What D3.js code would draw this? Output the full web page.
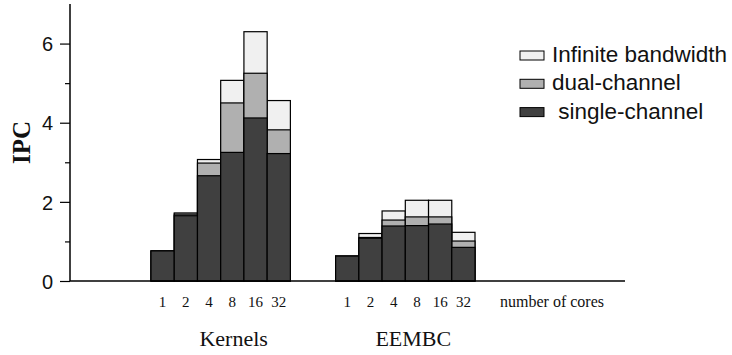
<!DOCTYPE html>
<html>
<head>
<meta charset="utf-8">
<script src="https://cdn.jsdelivr.net/npm/d3@7"></script>
<style>
  body { margin: 0; background: #fff; }
  svg { display: block; }
</style>
</head>
<body>
<div class="chart"></div>
<script>
const groups = ["Kernels", "EEMBC"]
const cores = ["1", "2", "4", "8", "16", "32"]
const yTicks = [0, 2, 4, 6]

// IPC per configuration (each value is the full bar height)
const single = {
    Kernels: [0.76, 1.65, 2.66, 3.25, 4.12, 3.22],
    EEMBC:   [0.63, 1.08, 1.39, 1.40, 1.44, 0.85]
}
const dual = {
    Kernels: [0.76, 1.69, 2.98, 4.50, 5.25, 3.82],
    EEMBC:   [0.63, 1.10, 1.54, 1.62, 1.62, 1.01]
}
const infinite = {
    Kernels: [0.76, 1.72, 3.07, 5.07, 6.30, 4.56],
    EEMBC:   [0.63, 1.20, 1.77, 2.04, 2.04, 1.23]
}

const seriesNames = ["Infinite bandwidth", "dual-channel", " single-channel"]
const seriesData = [infinite, dual, single]
const seriesColors = ["#f0f0f0", "#b0b0b0", "#404040"]

const W = 732, H = 355
const margin = {top: 4, right: 107, bottom: 74, left: 70}
const width = W - margin.left - margin.right
const height = H - margin.top - margin.bottom

const svg = d3.select(".chart").append("svg")
    .attr("width", W)
    .attr("height", H)
const g = svg.append("g")
    .attr("transform", `translate(${margin.left},${margin.top})`)

const yScale = d3.scaleLinear().domain([0, 7]).range([height, 0])

const groupScale = d3.scaleBand()
    .domain(groups)
    .range([81, 405])
    .paddingInner(0.245)
    .paddingOuter(0)

const coreScale = d3.scaleBand()
    .domain(cores)
    .range([0, groupScale.bandwidth()])

// bars, tallest series first so the shorter ones sit on top
seriesData.forEach((s, si) => {
    const rows = []
    groups.forEach(gr => cores.forEach((c, i) => rows.push({group: gr, core: c, v: s[gr][i]})))
    g.append("g").selectAll("rect")
        .data(rows)
        .enter()
        .append("rect")
            .attr("x", d => groupScale(d.group) + coreScale(d.core))
            .attr("width", coreScale.bandwidth())
            .attr("y", d => yScale(d.v))
            .attr("height", d => yScale(0) - yScale(d.v))
            .attr("fill", seriesColors[si])
            .attr("stroke", "#000")
            .attr("stroke-width", 1.2)
})

// y axis
const yAxis = d3.axisLeft(yScale)
    .tickValues(yTicks)
    .tickSize(10)
    .tickFormat(d3.format("d"))
const ya = g.append("g").call(yAxis)
ya.select(".domain").attr("d", `M0,${height}V0`).attr("stroke-width", 1.5)
ya.selectAll(".tick line").attr("stroke-width", 1.2)
ya.selectAll(".tick text")
    .attr("x", -17)
    .attr("dy", "0.36em")
    .style("font-family", "'Liberation Sans', Arial, sans-serif")
    .style("font-size", "20px")
    .attr("fill", "#111")

const minor = d3.axisLeft(yScale)
    .tickValues([1, 3, 5])
    .tickSize(5)
    .tickFormat("")
const ym = g.append("g").call(minor)
ym.select(".domain").remove()
ym.selectAll(".tick line").attr("stroke-width", 1.2)

// x axis line
g.append("line")
    .attr("x1", 0).attr("x2", width)
    .attr("y1", yScale(0)).attr("y2", yScale(0))
    .attr("stroke", "#000")
    .attr("stroke-width", 1.5)

// core labels
groups.forEach(gr => {
    g.append("g").selectAll("text")
        .data(cores)
        .enter()
        .append("text")
            .attr("x", d => groupScale(gr) + coreScale(d) + coreScale.bandwidth() / 2)
            .attr("y", yScale(0) + 26)
            .attr("text-anchor", "middle")
            .style("font-family", "'Liberation Serif', 'Times New Roman', serif")
            .style("font-size", "15px")
            .attr("fill", "#111")
            .text(d => d)
})

g.append("text")
    .attr("x", 430)
    .attr("y", yScale(0) + 26)
    .style("font-family", "'Liberation Serif', 'Times New Roman', serif")
    .style("font-size", "16px")
    .attr("fill", "#111")
    .text("number of cores")

// group labels (slightly right of the bar group centre, as in the original)
const labelNudge = [13, 8]
g.selectAll(".glabel")
    .data(groups)
    .enter()
    .append("text")
        .attr("class", "glabel")
        .attr("x", (d, i) => groupScale(d) + groupScale.bandwidth() / 2 + labelNudge[i])
        .attr("y", yScale(0) + 65)
        .attr("text-anchor", "middle")
        .style("font-family", "'Liberation Serif', 'Times New Roman', serif")
        .style("font-size", "22px")
        .attr("fill", "#111")
        .text(d => d)

// y label
svg.append("text")
    .attr("transform", `translate(30,${margin.top + yScale(3.5)}) rotate(-90)`)
    .attr("text-anchor", "middle")
    .style("font-family", "'Liberation Serif', 'Times New Roman', serif")
    .style("font-weight", "bold")
    .style("font-size", "25px")
    .attr("fill", "#111")
    .text("IPC")

// legend
const legend = svg.append("g")
    .attr("transform", "translate(520,51)")
legend.selectAll("rect")
    .data(seriesNames)
    .enter()
    .append("rect")
        .attr("x", 0)
        .attr("y", (_, i) => i * 28.3)
        .attr("width", 24)
        .attr("height", 9)
        .attr("fill", (_, i) => seriesColors[i])
        .attr("stroke", "#000")
        .attr("stroke-width", 1)
legend.selectAll("text")
    .data(seriesNames)
    .enter()
    .append("text")
        .attr("x", 32)
        .attr("y", (_, i) => i * 28.3 + 11)
        .style("font-family", "'Liberation Sans', Arial, sans-serif")
        .style("font-size", "22.5px")
        .style("white-space", "pre")
        .attr("xml:space", "preserve")
        .attr("fill", "#111")
        .text(d => d)
</script>
</body>
</html>
